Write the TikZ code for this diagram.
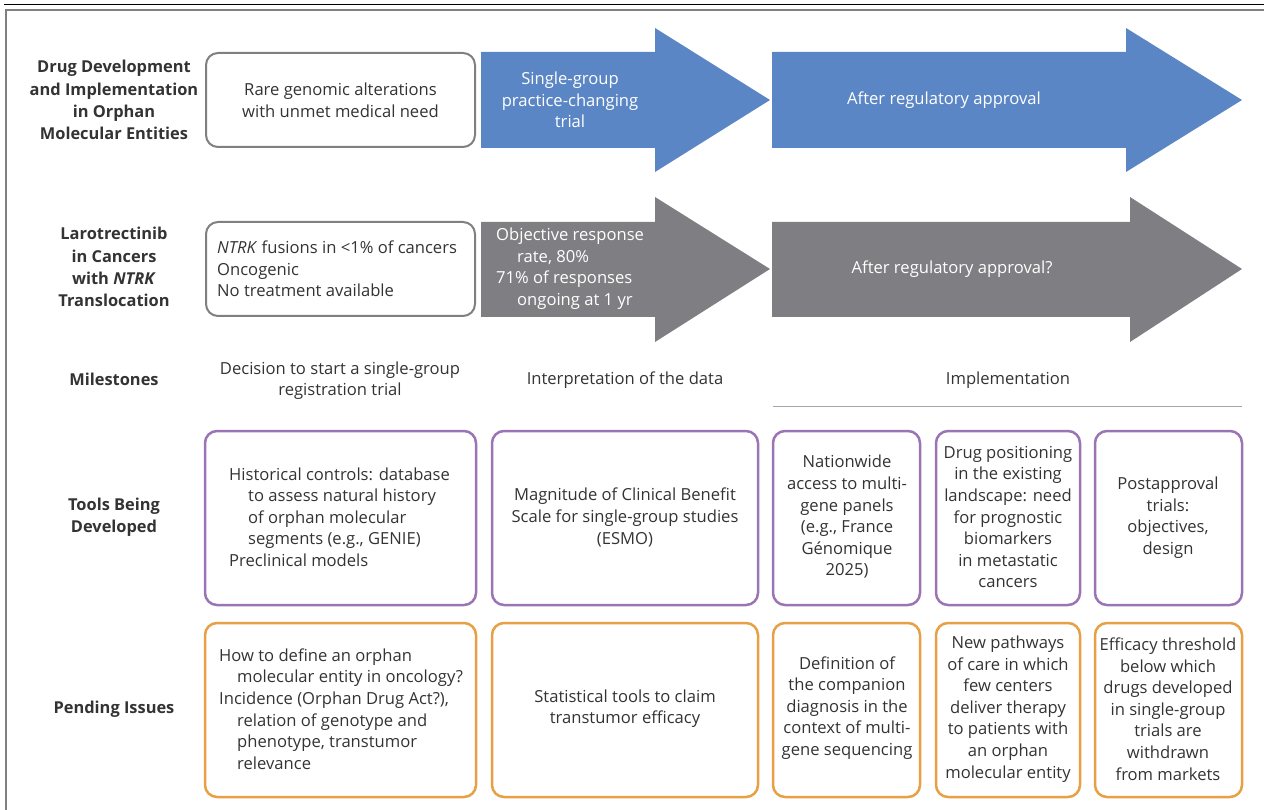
\documentclass[tikz,border=0pt]{standalone}
\usepackage{fontspec}
\setmainfont{Open Sans}
\usetikzlibrary{positioning}
\definecolor{txt}{HTML}{333333}
\definecolor{blu}{HTML}{5B86C5}
\definecolor{gry}{HTML}{7F7F83}
\definecolor{pur}{HTML}{9A74B5}
\definecolor{org}{HTML}{E8A044}
\definecolor{frm}{HTML}{808080}
\tikzset{
  base/.style={font=\fontsize{16.6}{21.6}\selectfont, text=txt, inner sep=0pt},
  lab/.style={base, font=\fontsize{16.4}{22.2}\selectfont\bfseries, align=center},
  wbox/.style={draw=frm, line width=2pt, rounded corners=12pt, fill=white},
  pbox/.style={draw=pur, line width=2.5pt, rounded corners=12pt},
  obox/.style={draw=org, line width=2.5pt, rounded corners=12pt},
  atxt/.style={base, text=white, align=center},
}
\begin{document}
\begin{tikzpicture}[x=1pt,y=-1pt]
\useasboundingbox (0,0) rectangle (1264,810);
% frame
\draw[black, line width=1.2pt] (4,4.5) -- (1264,4.5);
\draw[frm, line width=2pt] (5.5,810) -- (5.5,10.5) -- (1264,10.5);

% left labels
\node[lab] (l1) at (114,100) {Drug Development\\and Implementation\\in Orphan\\Molecular Entities};
\node[lab] (l2) at (114,267) {Larotrectinib\\in Cancers\\with \textit{NTRK}\\Translocation};
\node[lab] (l3) at (114,379) {Milestones};
\node[lab] (l4) at (114,517) {Tools Being\\Developed};
\node[lab] (l5) at (114,709) {Pending Issues};

% row 1
\draw[wbox] (206,53) rectangle (475,147);
\node[base, align=center] (r1a) at (340.5,100) {Rare genomic alterations\\with unmet medical need};
\fill[blu] (481,52) -- (655,52) -- (655,28) -- (770,100) -- (655,172) -- (655,148) -- (481,148) -- cycle;
\node[atxt] (r1b) at (570,100) {Single-group\\practice-changing\\trial};
\fill[blu] (772,52) -- (1126,52) -- (1126,28) -- (1242,100) -- (1126,172) -- (1126,148) -- (772,148) -- cycle;
\node[atxt] (r1c) at (944,100) {After regulatory approval};

% row 2
\draw[wbox] (206,222) rectangle (475,316);
\node[base, align=left, anchor=west] (r2a) at (217,269) {\textit{NTRK} fusions in <1\% of cancers\\Oncogenic\\No treatment available};
\fill[gry] (481,222) -- (655,222) -- (655,197) -- (770,269) -- (655,342) -- (655,317) -- (481,317) -- cycle;
\node[atxt, align=left, anchor=west] (r2b) at (496,268.5) {Objective response\\\hspace*{21pt}rate, 80\%\\71\% of responses\\\hspace*{21pt}ongoing at 1 yr};
\fill[gry] (772,222) -- (1130,222) -- (1130,197) -- (1242,269) -- (1130,342) -- (1130,317) -- (772,317) -- cycle;
\node[atxt] (r2c) at (952,269) {After regulatory approval?};

% milestones
\node[base, align=center] (m1) at (340,380.5) {Decision to start a single-group\\registration trial};
\node[base] (m2) at (625,380) {Interpretation of the data};
\node[base] (m3) at (1008,380) {Implementation};
\coordinate (ml1) at (773,406);
\coordinate (ml2) at (1242,406);
\draw[frm!70, line width=1pt] (ml1) -- (ml2);

% tools
\draw[pbox] (205,431) rectangle (476,605);
\node[base, align=left, anchor=west] (t1) at (229,517) {Historical controls: database\\\hspace*{19pt}to assess natural history\\\hspace*{19pt}of orphan molecular\\\hspace*{19pt}segments (e.g., GENIE)\\Preclinical models};
\draw[pbox] (492,431) rectangle (758,605);
\node[base, align=center] (t2) at (625,517.5) {Magnitude of Clinical Benefit\\Scale for single-group studies\\(ESMO)};
\draw[pbox] (773,431) rectangle (920,605);
\node[base, align=center] (t3) at (847,517) {Nationwide\\access to multi-\\gene panels\\(e.g., France\\Génomique\\2025)};
\draw[pbox] (936,431) rectangle (1080,605);
\node[base, align=center] (t4) at (1008,517) {Drug positioning\\in the existing\\landscape: need\\for prognostic\\biomarkers\\in metastatic\\cancers};
\draw[pbox] (1095,431) rectangle (1242,605);
\node[base, align=center] (t5) at (1168,517.5) {Postapproval\\trials:\\objectives,\\design};

% pending
\draw[obox] (205,623) rectangle (476,797);
\node[base, align=left, anchor=west] (p1) at (219,709) {How to define an orphan\\\hspace*{18pt}molecular entity in oncology?\\Incidence (Orphan Drug Act?),\\\hspace*{18pt}relation of genotype and\\\hspace*{18pt}phenotype, transtumor\\\hspace*{18pt}relevance};
\draw[obox] (492,623) rectangle (758,797);
\node[base, align=center] (p2) at (625,708.5) {Statistical tools to claim\\transtumor efficacy};
\draw[obox] (773,623) rectangle (920,797);
\node[base, align=center] (p3) at (847,708) {Definition of\\the companion\\diagnosis in the\\context of multi-\\gene sequencing};
\draw[obox] (936,623) rectangle (1080,797);
\node[base, align=center] (p4) at (1008,709) {New pathways\\of care in which\\few centers\\deliver therapy\\to patients with\\an orphan\\molecular entity};
\draw[obox] (1095,623) rectangle (1242,797);
\node[base, align=center] (p5) at (1168,709) {Efficacy threshold\\below which\\drugs developed\\in single-group\\trials are\\withdrawn\\from markets};
\end{tikzpicture}
\end{document}
